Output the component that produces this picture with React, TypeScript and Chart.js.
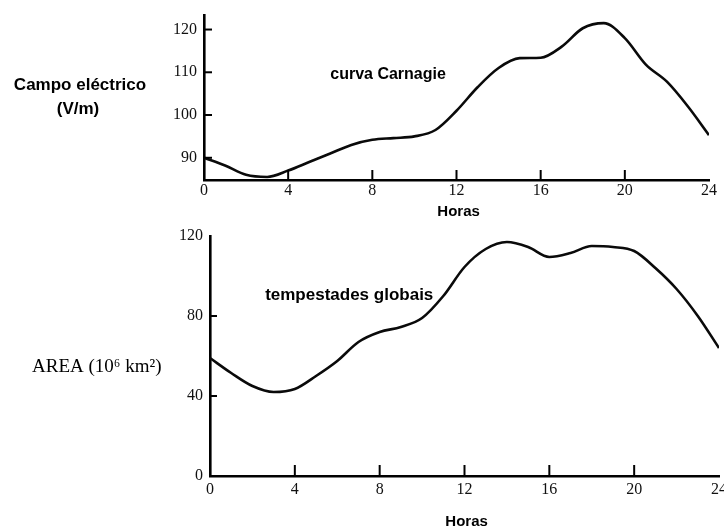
import React, { useEffect, useRef } from "react";
import { Chart, registerables } from "chart.js";

Chart.register(...registerables);

// ---- data ----
const hours = [0, 1, 2, 3, 4, 5, 6, 7, 8, 9, 10, 11, 12, 13, 14, 15, 16, 17, 18, 19, 20, 21, 22, 23, 24];
const campoValues = [90.0, 88.2, 86.0, 85.5, 87.0, 89.0, 91.0, 93.0, 94.2, 94.6, 95.0, 96.5, 101.0, 106.5, 111.0, 113.3, 113.4, 116.0, 120.3, 121.5, 118.0, 111.8, 107.8, 102.0, 95.3];
const areaValues = [59.0, 51.5, 45.0, 42.0, 43.5, 50.0, 57.5, 67.0, 72.0, 74.5, 79.0, 90.0, 104.5, 113.5, 117.0, 114.5, 109.5, 111.5, 115.0, 114.5, 112.5, 104.0, 93.5, 80.0, 64.0];
const hourTickLabels = [0, 4, 8, 12, 16, 20, 24];
const hourInnerMarks = [4, 8, 12, 16, 20];
const campoTickLabels = [90, 100, 110, 120];
const campoInnerMarks = [90, 100, 110, 120];
const areaTickLabels = [0, 40, 80, 120];
const areaInnerMarks = [40, 80];

type Note = {
  text: string;
  font: string;
  align: CanvasTextAlign;
  px?: number;
  py?: number;
  hour?: number;
  value?: number;
  below?: number;
};

type PanelCfg = {
  width: number;
  height: number;
  top: number;
  yMin: number;
  yMax: number;
  yTicks: number[];
  yMarks: number[];
  values: number[];
  axisLeft: number;
  areaTop: number;
  areaBottom: number;
  areaRight: number;
  xMarkLen: number;
  yMarkLen: number;
  xLabelPad: number;
  notes: Note[];
};

const SANS = "'Liberation Sans', Arial, sans-serif";
const SERIF = "'Liberation Serif', 'Times New Roman', serif";

function makeOverlay(cfg: PanelCfg) {
  return {
    id: "overlay",
    afterDraw(chart: any) {
      const { ctx, chartArea } = chart;
      const xs = chart.scales.x;
      const ys = chart.scales.y;
      ctx.save();
      ctx.strokeStyle = "#000";
      ctx.lineWidth = 2;
      for (const v of cfg.yMarks) {
        const py = ys.getPixelForValue(v);
        ctx.beginPath();
        ctx.moveTo(chartArea.left, py);
        ctx.lineTo(chartArea.left + cfg.yMarkLen, py);
        ctx.stroke();
      }
      for (const h of hourInnerMarks) {
        const px = xs.getPixelForValue(h);
        ctx.beginPath();
        ctx.moveTo(px, chartArea.bottom);
        ctx.lineTo(px, chartArea.bottom - cfg.xMarkLen);
        ctx.stroke();
      }
      ctx.fillStyle = "#000";
      ctx.textBaseline = "middle";
      for (const n of cfg.notes) {
        ctx.font = n.font;
        ctx.textAlign = n.align;
        const x = n.hour !== undefined ? xs.getPixelForValue(n.hour) : (n.px as number);
        let y: number;
        if (n.value !== undefined) y = ys.getPixelForValue(n.value);
        else if (n.below !== undefined) y = chartArea.bottom + n.below;
        else y = n.py as number;
        ctx.fillText(n.text, x, y);
      }
      ctx.restore();
    },
  };
}

function Panel({ cfg }: { cfg: PanelCfg }) {
  const ref = useRef<HTMLCanvasElement | null>(null);
  useEffect(() => {
    if (!ref.current) return;
    const tickFont = { family: "'Liberation Serif', 'Times New Roman', serif", size: 16 };
    const chart = new Chart(ref.current, {
      type: "line",
      data: {
        datasets: [
          {
            data: hours.map((h, i) => ({ x: h, y: cfg.values[i] })),
            borderColor: "#0a0a0a",
            borderWidth: 2.6,
            pointRadius: 0,
            cubicInterpolationMode: "monotone",
            fill: false,
          },
        ],
      },
      options: {
        animation: false,
        responsive: false,
        devicePixelRatio: 1,
        maintainAspectRatio: false,
        layout: {
          padding: {
            left: 0,
            top: cfg.areaTop,
            right: cfg.width - cfg.areaRight,
            bottom: 0,
          },
        },
        plugins: { legend: { display: false }, tooltip: { enabled: false } },
        scales: {
          x: {
            type: "linear",
            min: 0,
            max: 24,
            afterBuildTicks: (axis: any) => {
              axis.ticks = hourTickLabels.map((v) => ({ value: v }));
            },
            afterFit: (s: any) => {
              s.height = cfg.height - cfg.areaBottom;
              s.paddingLeft = 0;
              s.paddingRight = 0;
            },
            ticks: {
              font: tickFont,
              color: "#111",
              padding: cfg.xLabelPad,
              maxRotation: 0,
              autoSkip: false,
            },
            grid: { display: false, drawTicks: false },
            border: { display: true, color: "#000", width: 2.6 },
          },
          y: {
            type: "linear",
            min: cfg.yMin,
            max: cfg.yMax,
            afterBuildTicks: (axis: any) => {
              axis.ticks = cfg.yTicks.map((v) => ({ value: v }));
            },
            afterFit: (s: any) => {
              s.width = cfg.axisLeft;
              s.paddingTop = 0;
              s.paddingBottom = 0;
            },
            ticks: { font: tickFont, color: "#111", padding: 7 },
            grid: { display: false, drawTicks: false },
            border: { display: true, color: "#000", width: 2.6 },
          },
        },
      } as any,
      plugins: [makeOverlay(cfg) as any],
    });
    return () => chart.destroy();
  }, [cfg]);
  return (
    <canvas
      ref={ref}
      width={cfg.width}
      height={cfg.height}
      style={{ position: "absolute", left: 0, top: cfg.top, width: cfg.width, height: cfg.height }}
    />
  );
}

const topPanel: PanelCfg = {
  width: 724,
  height: 225,
  top: 0,
  yMin: 84.8,
  yMax: 123.4,
  yTicks: campoTickLabels,
  yMarks: campoInnerMarks,
  values: campoValues,
  axisLeft: 204,
  areaTop: 15,
  areaBottom: 180,
  areaRight: 709,
  xMarkLen: 10,
  yMarkLen: 8,
  xLabelPad: 1,
  notes: [
    { text: "Campo eléctrico", font: `bold 17px ${SANS}`, align: "center", px: 80, py: 85 },
    { text: "(V/m)", font: `bold 17px ${SANS}`, align: "center", px: 78, py: 109 },
    { text: "curva Carnagie", font: `bold 16px ${SANS}`, align: "left", hour: 6.0, value: 109.4 },
    { text: "Horas", font: `bold 15px ${SANS}`, align: "center", hour: 12.1, below: 32 },
  ],
};

const bottomPanel: PanelCfg = {
  width: 724,
  height: 305,
  top: 225,
  yMin: 0,
  yMax: 120,
  yTicks: areaTickLabels,
  yMarks: areaInnerMarks,
  values: areaValues,
  axisLeft: 210,
  areaTop: 11,
  areaBottom: 251,
  areaRight: 719,
  xMarkLen: 11,
  yMarkLen: 7,
  xLabelPad: 4,
  notes: [
    { text: "AREA (10⁶ km²)", font: `19px ${SERIF}`, align: "left", px: 32, py: 142 },
    { text: "tempestades globais", font: `bold 17px ${SANS}`, align: "left", hour: 2.6, value: 90.5 },
    { text: "Horas", font: `bold 15px ${SANS}`, align: "center", hour: 12.1, below: 46 },
  ],
};

export default function App() {
  return (
    <div
      style={{
        position: "fixed",
        left: 0,
        top: 0,
        width: 724,
        height: 530,
        overflow: "hidden",
        background: "#fff",
      }}
    >
      <Panel cfg={topPanel} />
      <Panel cfg={bottomPanel} />
    </div>
  );
}
